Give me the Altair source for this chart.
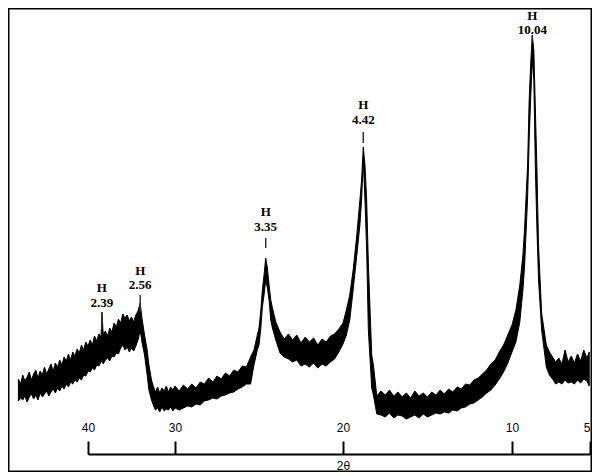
import altair as alt
import pandas as pd

# 2-theta sample positions (degrees) and the upper / lower edges of the noisy trace (a.u.)
two_theta = [48.0, 47.75, 47.5, 47.25, 47.0, 46.75, 46.5, 46.25, 46.0, 45.75,
             45.5, 45.25, 45.0, 44.75, 44.5, 44.25, 44.0, 43.75, 43.5, 43.25,
             43.0, 42.75, 42.5, 42.25, 42.0, 41.75, 41.5, 41.25, 41.0, 40.75,
             40.5, 40.25, 40.0, 39.75, 39.5, 39.25, 39.0, 38.75, 38.5, 38.4,
             38.25, 38.0, 37.75, 37.5, 37.25, 37.0, 36.75, 36.5, 36.25, 36.0,
             35.75, 35.5, 35.25, 35.0, 34.75, 34.5, 34.25, 34.0,
             33.8, 33.5, 33.2, 33.0, 32.7, 32.5,
             32.25, 32.0, 31.75, 31.5, 31.25, 31.0, 30.75, 30.5, 30.25, 30.0,
             29.75, 29.5, 29.25, 29.0, 28.75, 28.5, 28.25, 28.0, 27.75, 27.5,
             27.25, 27.0, 26.75, 26.5, 26.25, 26.0, 25.75, 25.5,
             25.3, 25.1, 25.0, 24.9, 24.8, 24.7, 24.6, 24.5, 24.4, 24.3, 24.2, 24.0,
             23.75, 23.5, 23.25, 23.0, 22.75, 22.5, 22.25, 22.0, 21.75, 21.5,
             21.25, 21.0, 20.75, 20.5, 20.25, 20.0,
             19.8, 19.6, 19.4, 19.2, 19.0, 18.9, 18.8, 18.7, 18.6, 18.5, 18.3, 18.2,
             18.0, 17.75, 17.5, 17.25, 17.0, 16.75, 16.5, 16.25, 16.0, 15.75,
             15.5, 15.25, 15.0, 14.75, 14.5, 14.25, 14.0, 13.75, 13.5, 13.25,
             13.0, 12.75, 12.5, 12.25, 12.0, 11.75, 11.5, 11.25, 11.0, 10.75,
             10.5, 10.25, 10.0,
             9.75, 9.5, 9.3, 9.2, 9.0, 8.9, 8.8, 8.7, 8.6, 8.5, 8.4, 8.3, 8.1,
             7.8, 7.6, 7.4, 7.2, 7.0, 6.8, 6.6, 6.4, 6.2, 6.0, 5.8, 5.6, 5.4, 5.2, 5.05]
upper = [610, 560, 650, 590, 630, 680, 600, 660, 700, 620,
         690, 650, 730, 660, 710, 760, 690, 770, 730, 800,
         750, 830, 790, 860, 800, 880, 840, 910, 870, 950,
         900, 980, 940, 1000, 950, 1040, 990, 1060, 1030, 1280,
         1060, 1090, 1040, 1120, 1080, 1170, 1130, 1210, 1170, 1260,
         1220, 1250, 1190, 1230, 1180, 1250, 1290, 1370,
         1220, 1050, 900, 750, 600, 540,
         480, 530, 470, 520, 490, 540, 480, 530, 500, 540,
         490, 550, 510, 560, 520, 580, 560, 620, 580, 640,
         610, 670, 640, 700, 680, 740, 730, 830,
         900, 1050, 1120, 1280, 1500, 1650, 1820, 1720, 1550, 1400, 1320, 1180,
         1080, 1010, 1060, 1000, 1050, 970, 1030, 980, 1020, 950,
         1010, 980, 1040, 1060, 1110, 1170,
         1300, 1450, 1700, 2020, 2400, 2600, 2930, 2750, 2400, 1770, 850, 750,
         440, 490, 450, 500, 440, 480, 430, 470, 420, 490,
         440, 470, 430, 480, 450, 500, 460, 510, 480, 530,
         510, 560, 550, 600, 620, 660, 700, 760, 800, 880,
         950, 1050, 1150,
         1300, 1550, 1850, 2100, 2750, 3400, 3770, 4050, 3900, 3300, 2700, 1950, 1270,
         950, 880, 830, 780, 820, 760, 900, 780, 840, 770, 860, 790, 900, 820, 880]
lower = [390, 420, 400, 440, 380, 430, 460, 410, 450, 400,
         470, 430, 460, 490, 440, 480, 510, 470, 520, 490,
         540, 510, 560, 530, 580, 560, 600, 580, 620, 600,
         650, 640, 690, 680, 720, 700, 750, 740, 780, 800,
         760, 800, 820, 790, 840, 830, 870, 860, 920, 950,
         900, 930, 880, 920, 890, 940, 1000, 1100,
         980, 850, 650, 500, 400, 350,
         300, 320, 280, 330, 290, 310, 300, 330, 290, 320,
         300, 320, 340, 330, 360, 350, 390, 400, 420, 410,
         440, 450, 470, 480, 510, 530, 560, 560,
         750, 900, 950, 1100, 1330, 1450, 1600, 1520, 1400, 1200, 1120, 1000,
         870, 830, 810, 780, 800, 740, 760, 730, 770, 720,
         760, 740, 780, 810, 880, 960,
         1050, 1200, 1500, 1820, 2150, 2400, 2800, 2400, 1900, 1100, 520, 450,
         260, 250, 230, 270, 220, 250, 240, 210, 230, 250,
         220, 260, 230, 250, 270, 260, 280, 270, 300, 290,
         320, 330, 360, 370, 400, 430, 470, 500, 550, 610,
         680, 770, 880,
         980, 1180, 1500, 1720, 2420, 3000, 3430, 3800, 3600, 2700, 2100, 1600, 1100,
         730, 650, 610, 560, 580, 560, 600, 570, 580, 560, 600, 570, 610, 590, 540]
assert len(two_theta) == len(upper) == len(lower)

# peak annotations
peak_d = ["2.39", "2.56", "3.35", "4.42", "10.04"]
peak_phase = ["H", "H", "H", "H", "H"]
peak_theta = [38.4, 34.0, 24.6, 18.8, 8.7]
number_level = [1370, 1550, 2130, 3200, 4100]
phase_level = [1520, 1690, 2280, 3350, 4240]
marker_top = [1270, 1450, 2020, 3080, 4040]
marker_bottom = [1100, 1280, 1920, 2970, 3990]

tick_values = [40, 30, 20, 10, 5]
tick_pixels = [80, 167, 335, 504, 582]

trace = pd.DataFrame({"t": two_theta, "hi": upper, "lo": lower})
peaks = pd.DataFrame({"t": peak_theta, "d": peak_d, "ph": peak_phase,
                      "nl": number_level, "pl": phase_level,
                      "mt": marker_top, "mb": marker_bottom})

xscale = alt.Scale(domain=tick_values, range=tick_pixels, nice=False, zero=False)
yscale = alt.Scale(domain=[0, 4320], range=[432, 0], nice=False, zero=False)

xaxis = alt.Axis(orient="top", offset=-446, values=tick_values, grid=False,
                 domainColor="black", domainWidth=2, tickColor="black", tickWidth=2,
                 tickSize=13, labelPadding=7, labelFont="Liberation Sans", labelFontSize=12,
                 labelColor="black", labelFlush=False, labelOverlap=False,
                 labelAlign={"condition": {"test": "datum.value == 5", "value": "right"},
                             "value": "center"},
                 title="2θ", titleFont="Liberation Sans", titleFontSize=12,
                 titleFontWeight="normal", titleColor="black", titleX=335, titleY=11,
                 titleAlign="center", titleBaseline="middle")

band = alt.Chart(trace).mark_area(color="black", stroke="black", strokeWidth=1).encode(
    x=alt.X("t:Q", scale=xscale, axis=xaxis),
    y=alt.Y("hi:Q", scale=yscale, axis=None),
    y2="lo:Q",
)

markers = alt.Chart(peaks).mark_rule(color="#333", strokeWidth=1.5).encode(
    x=alt.X("t:Q", scale=xscale),
    y=alt.Y("mt:Q", scale=yscale),
    y2="mb:Q",
)

nums = alt.Chart(peaks).mark_text(font="Liberation Serif", fontWeight="bold", fontSize=13,
                                  color="black", baseline="middle").encode(
    x=alt.X("t:Q", scale=xscale),
    y=alt.Y("nl:Q", scale=yscale),
    text="d:N",
)

phases = alt.Chart(peaks).mark_text(font="Liberation Serif", fontWeight="bold", fontSize=13,
                                    color="black", baseline="middle").encode(
    x=alt.X("t:Q", scale=xscale),
    y=alt.Y("pl:Q", scale=yscale),
    text="ph:N",
)

chart = alt.layer(band, markers, nums, phases).properties(
    width=584, height=464, autosize=alt.AutoSizeParams(type="none"), padding=0
).configure_view(stroke="black", strokeWidth=3)

chart.save("out.html", embed_options={"renderer": "svg", "actions": False})
